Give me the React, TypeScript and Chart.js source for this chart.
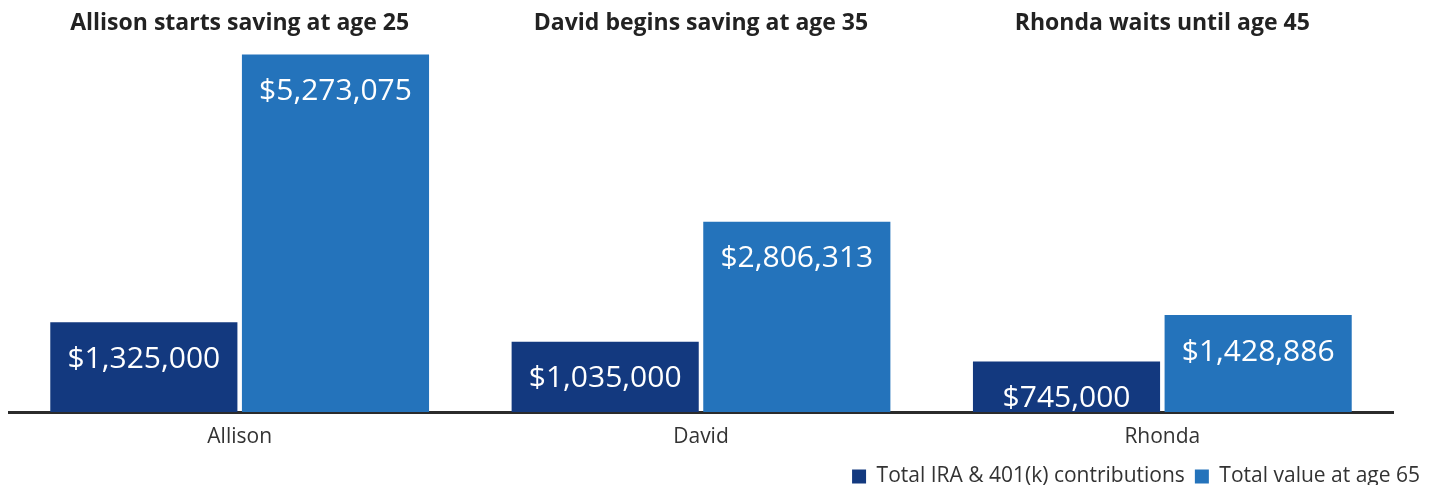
import React, { useEffect, useRef } from "react";
import { Chart, registerables } from "chart.js";

Chart.register(...registerables);

const categories = ["Allison", "David", "Rhonda"];
const groupTitles = [
  "Allison starts saving at age 25",
  "David begins saving at age 35",
  "Rhonda waits until age 45",
];
const seriesNames = ["Total IRA & 401(k) contributions", "Total value at age 65"];
const contributions = [1325000, 1035000, 745000];
const totalValue = [5273075, 2806313, 1428886];
const yMax = 5500000;

const DARK = "#13397F";
const LIGHT = "#2473BB";
const FONT = "'Open Sans', 'Noto Sans', sans-serif";

const fmt = (v: number) => "$" + v.toLocaleString("en-US");

const valueLabels = {
  id: "valueLabels",
  afterDatasetsDraw(chart: any) {
    const ctx = chart.ctx;
    ctx.save();
    ctx.fillStyle = "#ffffff";
    ctx.font = `400 30px ${FONT}`;
    ctx.textAlign = "center";
    ctx.textBaseline = "middle";
    chart.data.datasets.forEach((ds: any, di: number) => {
      const meta = chart.getDatasetMeta(di);
      meta.data.forEach((el: any, i: number) => {
        ctx.fillText(fmt(ds.data[i]), el.x, el.y + 37);
      });
    });
    ctx.restore();
  },
};

const groupTitlePlugin = {
  id: "groupTitles",
  afterDraw(chart: any) {
    const ctx = chart.ctx;
    const xs = chart.scales.x;
    ctx.save();
    ctx.fillStyle = "#222222";
    ctx.font = `700 23px ${FONT}`;
    ctx.textAlign = "center";
    ctx.textBaseline = "middle";
    groupTitles.forEach((t, i) => {
      ctx.fillText(t, xs.getPixelForValue(i), 23);
    });
    ctx.restore();
  },
};

export default function App() {
  const ref = useRef<HTMLCanvasElement | null>(null);
  useEffect(() => {
    if (!ref.current) return;
    const chart = new Chart(ref.current, {
      type: "bar",
      data: {
        labels: categories,
        datasets: [
          {
            label: seriesNames[0],
            data: contributions,
            backgroundColor: DARK,
            categoryPercentage: 0.8308,
            barPercentage: 0.9765,
          },
          {
            label: seriesNames[1],
            data: totalValue,
            backgroundColor: LIGHT,
            categoryPercentage: 0.8308,
            barPercentage: 0.9765,
          },
        ],
      },
      options: {
        animation: false,
        responsive: true,
        maintainAspectRatio: false,
        layout: { padding: { left: 9, right: 6, top: 39, bottom: -12 } },
        plugins: {
          legend: {
            position: "bottom",
            align: "end",
            labels: {
              boxWidth: 14,
              boxHeight: 14,
              padding: 10,
              color: "#333333",
              font: { family: FONT, size: 21 },
            },
          },
          tooltip: { enabled: false },
        },
        scales: {
          x: {
            grid: { display: false, drawTicks: false },
            border: { display: true, color: "#2b2b2b", width: 3 },
            ticks: {
              color: "#333333",
              padding: 17,
              font: { family: FONT, size: 21, lineHeight: 0.8 },
            },
            afterFit: (s: any) => {
              s.height = 44;
            },
          },
          y: {
            position: "right",
            min: 0,
            max: yMax,
            grid: { display: false, drawTicks: false },
            border: { display: false },
            ticks: { display: false },
            afterFit: (s: any) => {
              s.width = 37;
            },
          },
        },
      },
      plugins: [valueLabels, groupTitlePlugin],
    });
    return () => chart.destroy();
  }, []);
  return (
    <div style={{ position: "absolute", left: 0, top: 0, width: 1436, height: 485 }}>
      <canvas ref={ref} />
    </div>
  );
}
